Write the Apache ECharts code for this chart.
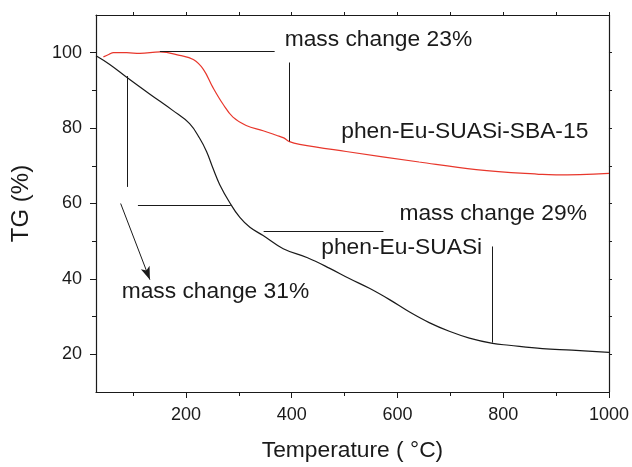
<!DOCTYPE html>
<html>
<head>
<meta charset="utf-8">
<script src="https://cdn.jsdelivr.net/npm/echarts@6/dist/echarts.min.js"></script>
<style>
  html, body { margin: 0; padding: 0; background: #fff; }
  #chart { width: 632px; height: 467px; }
</style>
</head>
<body>
<div id="chart"></div>
<script>
// phen-Eu-SUASi (black)
const blackTemp = [30, 56, 88, 132, 175, 207, 226, 239, 251, 264, 283, 302, 321, 346, 384, 430, 472, 509, 547, 585, 623, 660, 698, 736, 780, 811, 874, 930, 1000];
const blackTG   = [99.2, 96.9, 93.5, 89.0, 84.7, 81.2, 77.3, 73.8, 69.4, 65.0, 60.2, 56.3, 53.7, 51.5, 48.0, 45.6, 42.8, 40.1, 37.5, 34.5, 31.2, 28.4, 26.1, 24.3, 22.9, 22.4, 21.5, 21.1, 20.5];

// phen-Eu-SUASi-SBA-15 (red)
const redTemp = [44, 55, 63, 88, 113, 151, 188, 214, 233, 251, 270, 289, 314, 346, 371, 385, 396, 415, 503, 641, 749, 874, 900, 1000];
const redTG   = [98.9, 99.6, 100.0, 100.0, 99.8, 100.2, 99.3, 98.2, 95.6, 90.8, 86.4, 82.9, 80.7, 79.3, 78.1, 77.4, 76.4, 75.7, 73.8, 71.0, 69.0, 67.7, 67.6, 68.0];

const majorX = [200, 400, 600, 800, 1000];
const minorX = [100, 300, 500, 700, 900];
const majorY = [20, 40, 60, 80, 100];
const minorY = [30, 50, 70, 90];

// annotation lines [x1, y1, x2, y2]
const guideLines = [
  [150.8, 100.4, 367.8, 100.4],
  [396.1, 97.4, 396.1, 76.5],
  [88.5, 93.8, 88.5, 64.4],
  [109.3, 59.5, 284.8, 59.5],
  [347, 52.6, 573.5, 52.6],
  [778.6, 48.6, 778.6, 23.1]
];
const arrowLine = [76.6, 60.0, 131.9, 39.8];

// annotation texts (left edge, vertical centre)
const noteText = ['mass change 23%', 'phen-Eu-SUASi-SBA-15', 'mass change 29%', 'phen-Eu-SUASi', 'mass change 31%'];
const noteX = [386.7, 493.7, 603.7, 455.9, 78.5];
const noteY = [103.5, 79.0, 57.2, 48.4, 36.6];

const FONT = 'Liberation Sans, Arial, Helvetica, sans-serif';
const INK = '#1a1a1a';

const zip = (a, b) => a.map((v, i) => [v, b[i]]);

const chart = echarts.init(document.getElementById('chart'));

const baseX = { type: 'value', min: 30, max: 1000, splitLine: { show: false } };
const baseY = { type: 'value', min: 10, max: 110, splitLine: { show: false } };

const markData = guideLines.map(l => [{ coord: [l[0], l[1]] }, { coord: [l[2], l[3]] }]);
markData.push([
  { coord: [arrowLine[0], arrowLine[1]], symbol: 'none' },
  { coord: [arrowLine[2], arrowLine[3]], symbol: 'arrow', symbolSize: [7, 13] }
]);

chart.setOption({
  animation: false,
  textStyle: { fontFamily: FONT },
  grid: { left: 96, right: 22, top: 15, bottom: 70 },
  xAxis: [
    Object.assign({}, baseX, {
      position: 'bottom',
      axisLine: { lineStyle: { color: INK, width: 1.2 } },
      axisTick: { customValues: majorX, length: 6, lineStyle: { color: INK } },
      axisLabel: { customValues: majorX, formatter: v => String(v), fontSize: 18, color: INK, margin: 14, fontFamily: FONT },
      name: 'Temperature ( °C)',
      nameLocation: 'middle',
      nameGap: 47,
      nameTextStyle: { fontSize: 22.8, color: INK, fontFamily: FONT }
    }),
    Object.assign({}, baseX, {
      position: 'bottom',
      axisLine: { show: false },
      axisTick: { customValues: minorX, length: 4, lineStyle: { color: INK } },
      axisLabel: { show: false }
    }),
    Object.assign({}, baseX, {
      position: 'top',
      axisLine: { lineStyle: { color: INK, width: 1.2 } },
      axisTick: { customValues: minorX.concat(majorX), length: 3, lineStyle: { color: INK } },
      axisLabel: { show: false }
    })
  ],
  yAxis: [
    Object.assign({}, baseY, {
      position: 'left',
      axisLine: { show: true, lineStyle: { color: INK, width: 1.2 } },
      axisTick: { show: true, customValues: majorY, length: 6, lineStyle: { color: INK } },
      axisLabel: { customValues: majorY, fontSize: 18, color: INK, margin: 14, fontFamily: FONT },
      name: 'TG (%)',
      nameLocation: 'middle',
      nameGap: 63,
      nameTextStyle: { fontSize: 24, color: INK, fontFamily: FONT }
    }),
    Object.assign({}, baseY, {
      position: 'left',
      axisLine: { show: false },
      axisTick: { show: true, customValues: minorY, length: 4, lineStyle: { color: INK } },
      axisLabel: { show: false }
    }),
    Object.assign({}, baseY, {
      position: 'right',
      axisLine: { show: true, lineStyle: { color: INK, width: 1.2 } },
      axisTick: { show: true, customValues: minorY.concat(majorY), length: 3, lineStyle: { color: INK } },
      axisLabel: { show: false }
    })
  ],
  series: [
    {
      name: 'phen-Eu-SUASi',
      type: 'line',
      data: zip(blackTemp, blackTG),
      showSymbol: false,
      smooth: 0.4,
      lineStyle: { color: INK, width: 1.2 },
      markLine: {
        silent: true,
        symbol: ['none', 'none'],
        label: { show: false },
        lineStyle: { color: INK, width: 1, type: 'solid' },
        emphasis: { disabled: true },
        data: markData
      }
    },
    {
      name: 'phen-Eu-SUASi-SBA-15',
      type: 'line',
      data: zip(redTemp, redTG),
      showSymbol: false,
      smooth: 0.4,
      lineStyle: { color: '#e8372c', width: 1.2 }
    },
    {
      name: 'notes',
      type: 'scatter',
      symbolSize: 0,
      silent: true,
      itemStyle: { opacity: 1 },
      data: noteText.map((t, i) => ({ name: t, value: [noteX[i], noteY[i]] })),
      label: {
        show: true,
        formatter: '{b}',
        position: [0, 0],
        align: 'left',
        verticalAlign: 'middle',
        fontSize: 22.8,
        color: INK,
        opacity: 1,
        fontFamily: FONT
      }
    }
  ]
});
</script>
</body>
</html>
